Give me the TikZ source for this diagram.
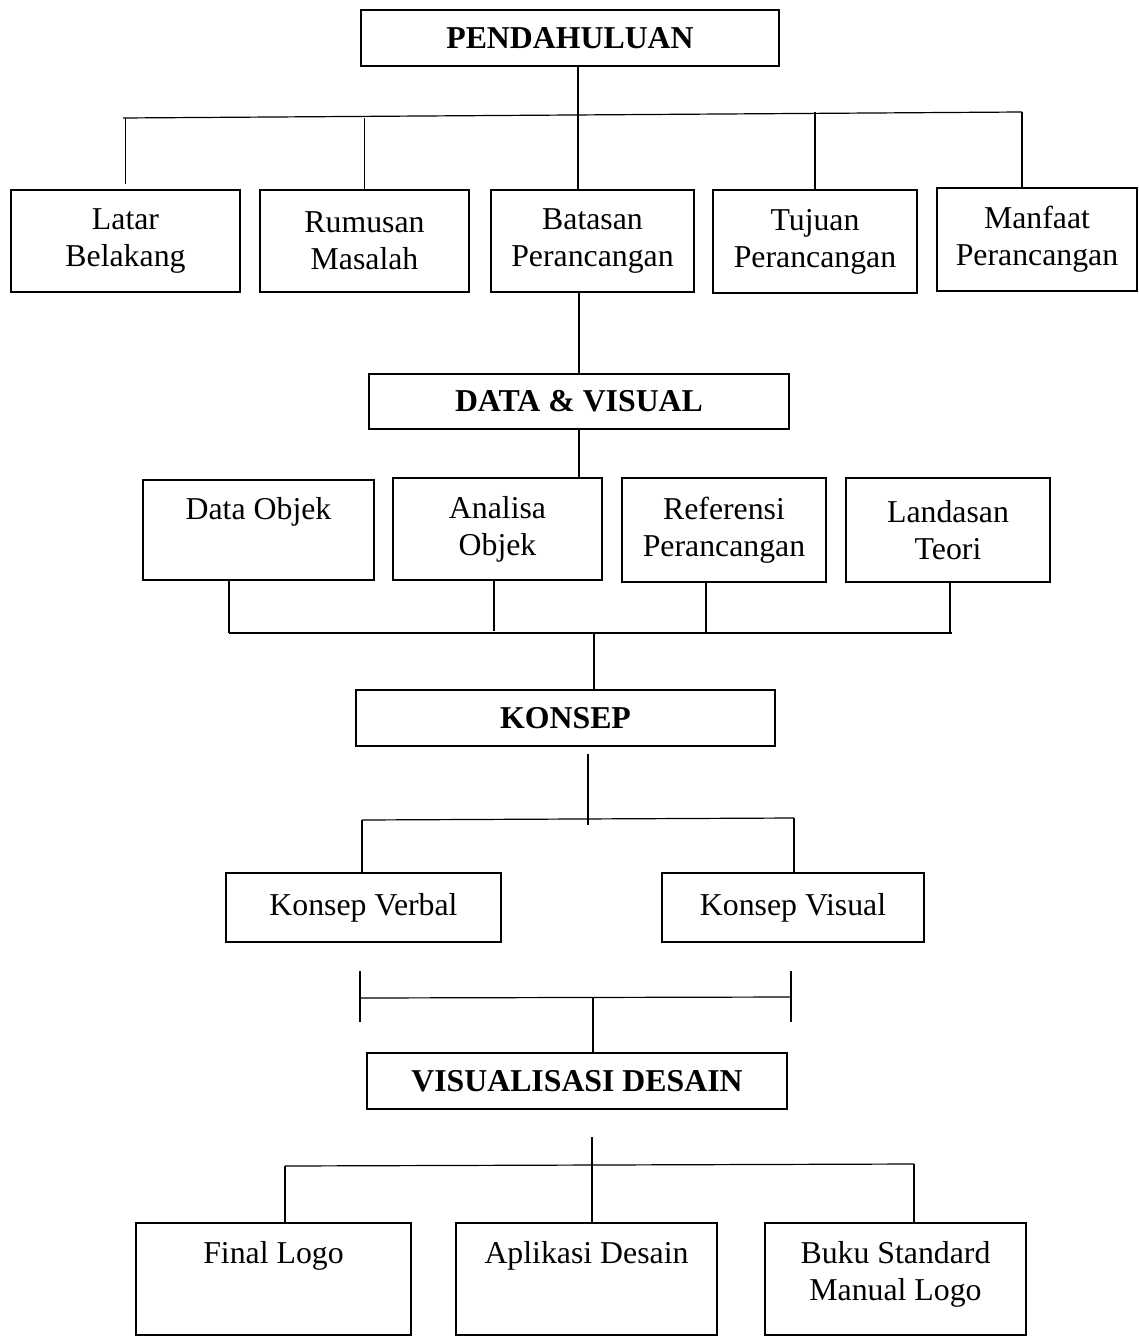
\documentclass[tikz,border=0pt]{standalone}
\usepackage{fontspec}
\setmainfont{Liberation Serif}
\usetikzlibrary{positioning}

\tikzset{
  box/.style={draw, line width=1pt, inner sep=0pt, align=center,
    font=\fontsize{15.9}{18.5}\selectfont},
  headbox/.style={box, font=\fontsize{15.9}{18.5}\selectfont\bfseries},
  boxtext/.style={inner sep=0pt, align=center, font=\fontsize{15.9}{18.5}\selectfont},
  link/.style={line width=0.6pt},
}

\begin{document}
\begin{tikzpicture}[x=0.5pt, y=-0.5pt]
  \useasboundingbox (0,0) rectangle (1139,1337);

  % level 1
  \node[headbox, minimum width=209pt, minimum height=28pt] (pend) at (570,38) {PENDAHULUAN};

  \node[box, minimum width=114.5pt, minimum height=51pt] (latar) at (125.5,241) {Latar\\Belakang};
  \node[box, minimum width=104.5pt, minimum height=51pt] (rumusan) at (364.5,241) {Rumusan\\Masalah};
  \node[box, minimum width=101.5pt, minimum height=51pt] (batasan) at (592.5,241) {Batasan\\Perancangan};
  \node[box, minimum width=102pt, minimum height=51pt] (tujuan) at (815,241.5) {Tujuan\\Perancangan};
  \node[box, minimum width=100pt, minimum height=51.5pt] (manfaat) at (1037,239.5) {Manfaat\\Perancangan};

  % level 2
  \node[headbox, minimum width=210pt, minimum height=27.5pt] (data) at (579,401.5) {DATA \& VISUAL};

  \node[box, minimum width=115.5pt, minimum height=50pt] (dataobj) at (258.5,530) {Data Objek\\\phantom{Objek}};
  \node[box, minimum width=104.5pt, minimum height=51pt] (analisa) at (497.5,529) {Analisa\\Objek};
  \node[box, minimum width=102pt, minimum height=52pt] (referensi) at (724,530) {Referensi\\Perancangan};
  \node[box, minimum width=102pt, minimum height=52pt] (landasan) at (948,530) {Landasan\\Teori};

  % level 3
  \node[headbox, minimum width=209.5pt, minimum height=28pt] (konsep) at (565.5,718) {KONSEP};
  \node[box, minimum width=137.5pt, minimum height=34.5pt] (verbal) at (363.5,907.5) {Konsep Verbal};
  \node[box, minimum width=131pt, minimum height=34.5pt] (visual) at (793,907.5) {Konsep Visual};

  % level 4
  \node[headbox, minimum width=210pt, minimum height=28pt] (vis) at (577,1081) {VISUALISASI DESAIN};

  \node[box, minimum width=137.5pt, minimum height=56pt] (final) at (273.5,1279) {};
  \node[box, minimum width=130.5pt, minimum height=56pt] (aplikasi) at (586.5,1279) {};
  \node[box, minimum width=130.5pt, minimum height=56pt] (buku) at (895.5,1279) {};
  \node[boxtext, below=9.5pt of final.north] (finaltext) {Final Logo};
  \node[boxtext, below=9.5pt of aplikasi.north] (aplikasitext) {Aplikasi Desain};
  \node[boxtext, below=9.5pt of buku.north] (bukutext) {Buku Standard\\Manual Logo};

  % lines under pendahuluan
  \coordinate (busA) at (123,118);
  \coordinate (busB) at (1022,112);
  \coordinate (trunkA) at (578,0);
  \draw[link] (busA) -- (busB);
  \draw[link] (pend.south -| trunkA) -- (batasan.north -| trunkA);
  \draw[link] (latar.north) ++(0,-5) -- (latar.north |- busA);
  \draw[link] (rumusan.north) -- (rumusan.north |- busA);
  \draw[link] (tujuan.north) -- (tujuan.north |- busB);
  \draw[link] (manfaat.north -| busB) -- (busB);

  % lines to data & visual
  \coordinate (trunkB) at (579,0);
  \draw[link] (batasan.south -| trunkB) -- (data.north -| trunkB);
  \draw[link] (data.south -| trunkB) -- (analisa.north -| trunkB);

  \coordinate (busC) at (229,633);
  \coordinate (busD) at (952,633);
  \coordinate (dropAnalisa) at (494,631);
  \coordinate (dropReferensi) at (706,632);
  \coordinate (dropLandasan) at (950,633);
  \coordinate (trunkC) at (594,633);
  \draw[link] (busC) -- (busD);
  \draw[link] (dataobj.south -| busC) -- (busC);
  \draw[link] (analisa.south -| dropAnalisa) -- (dropAnalisa);
  \draw[link] (referensi.south -| dropReferensi) -- (dropReferensi);
  \draw[link] (landasan.south -| dropLandasan) -- (dropLandasan);
  \draw[link] (trunkC) -- (konsep.north -| trunkC);

  % lines under konsep
  \coordinate (trunkD) at (588,754);
  \coordinate (busE) at (362,820);
  \coordinate (busF) at (794,818);
  \draw[link] (trunkD) -- ++(0,71);
  \draw[link] (busE) -- (busF);
  \draw[link] (busE) -- (verbal.north -| busE);
  \draw[link] (busF) -- (visual.north -| busF);

  \coordinate (brL) at (360,998);
  \coordinate (brR) at (791,997);
  \coordinate (trunkE) at (593,998);
  \draw[link] (brL) -- (brR);
  \draw[link] (brL) ++(0,-27) -- ++(0,51);
  \draw[link] (brR) ++(0,-26) -- ++(0,51);
  \draw[link] (trunkE) -- (vis.north -| trunkE);

  % lines under visualisasi
  \coordinate (trunkF) at (592,1137);
  \coordinate (busG) at (285,1166);
  \coordinate (busH) at (914,1164);
  \draw[link] (trunkF) -- (aplikasi.north -| trunkF);
  \draw[link] (busG) -- (busH);
  \draw[link] (busG) -- (final.north -| busG);
  \draw[link] (busH) -- (buku.north -| busH);
\end{tikzpicture}
\end{document}
